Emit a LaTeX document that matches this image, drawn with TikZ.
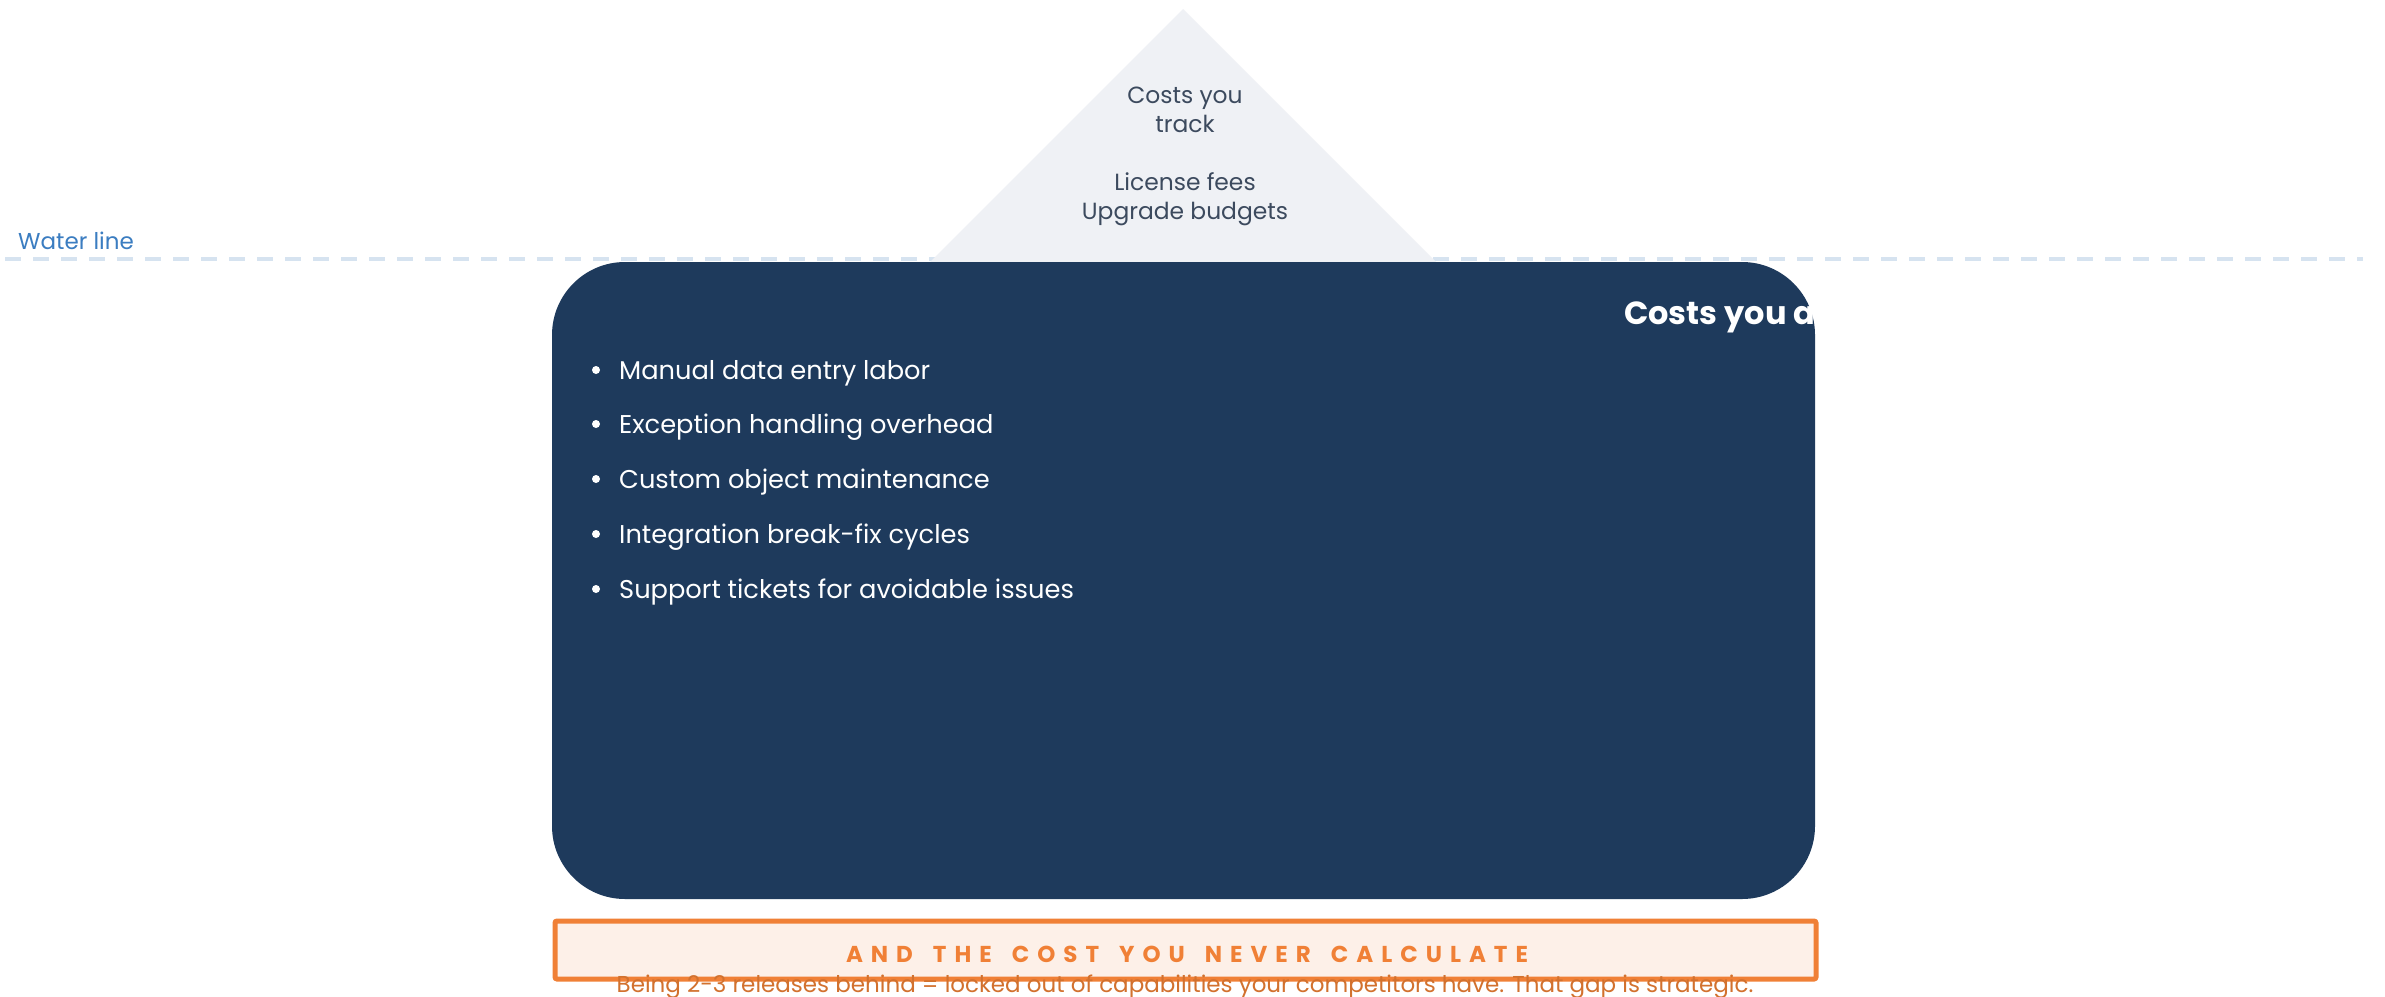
\documentclass[tikz,border=0pt]{standalone}
\usepackage{fontspec}
\setmainfont{Poppins}
\definecolor{navy}{HTML}{1E3A5C}
\definecolor{trifill}{HTML}{EFF1F5}
\definecolor{dashc}{HTML}{D6E3F0}
\definecolor{wlblue}{HTML}{3B7DC1}
\definecolor{tritext}{HTML}{3C4A5E}
\definecolor{orng}{HTML}{F08036}
\definecolor{orngfill}{HTML}{FDF0E8}
\definecolor{orngtext}{HTML}{D2712E}
\makeatletter
\newcommand\lsp[1]{\@tfor\ch:=#1\do{\ch\kern8pt}}
\makeatother
\tikzset{
  waterline/.style={draw=dashc, line width=4.5pt, dash pattern=on 16pt off 12pt},
  darkbox/.style={fill=navy, rounded corners=73pt, inner sep=0pt},
  bullettext/.style={anchor=base west, inner sep=0pt, text=white, font=\fontsize{25.7}{30}\selectfont},
  bulletdot/.style={fill=white},
  orangebox/.style={draw=orng, fill=orngfill, line width=5pt, rounded corners=2pt, inner sep=0pt},
}
\begin{document}
\begin{tikzpicture}[x=1pt,y=-1pt]
\useasboundingbox (0,0) rectangle (2385,996);
\fill[white] (0,0) rectangle (2385,996);
% water line
\coordinate (wl1) at (5,259);
\coordinate (wl2) at (2363,259);
\draw[waterline] (wl1) -- (wl2);
\node[anchor=base west, inner sep=0pt, text=wlblue, font=\fontsize{23}{27}\selectfont] (wltext) at (18,249) {Water line};
% triangle (tip of iceberg)
\coordinate (apex) at (1183,9);
\coordinate (tr) at (1437,263);
\coordinate (tl) at (929,263);
\fill[trifill] (apex) -- (tr) -- (tl) -- cycle;
\node[align=center, inner sep=0pt, text=tritext, font=\fontsize{23.4}{29}\selectfont] (tritxt) at (1185,156)
  {Costs you\\track\\[29pt]License fees\\Upgrade budgets};
% dark box
\node[darkbox, minimum width=1263pt, minimum height=637pt] (box) at (1183.5,580.5) {};
\begin{scope}
\clip[rounded corners=73pt] (box.north west) rectangle (box.south east);
\node[anchor=base west, inner sep=0pt, text=white, font=\bfseries\fontsize{32}{36}\selectfont] (hidden) at (1624,324) {Costs you a};
\end{scope}
% bullets
\foreach \n/\y/\t in {b1/379/Manual data entry labor, b2/433/Exception handling overhead, b3/488/Custom object maintenance, b4/543/Integration break-fix cycles, b5/598/Support tickets for avoidable issues}{
  \node[bullettext] (\n) at (619,\y) {\t};
  \fill[bulletdot] (596,\y-9) circle (4pt);
}
% orange box
\node[orangebox, minimum width=1261pt, minimum height=58pt] (ob) at (1185.5,950) {};
\node[anchor=base, inner sep=0pt, text=orng, font=\bfseries\fontsize{23}{26}\selectfont] (obtitle) at (1187,962)
  {\lsp{AND}\hspace{12pt}\lsp{THE}\hspace{12pt}\lsp{COST}\hspace{12pt}\lsp{YOU}\hspace{12pt}\lsp{NEVER}\hspace{12pt}\lsp{CALCULATE}\kern-8pt};
\node[anchor=base, inner sep=0pt, text=orngtext, font=\fontsize{23}{27}\selectfont] (obsub) at (1185,992)
  {Being 2-3 releases behind = locked out of capabilities your competitors have. That gap is strategic.};
\end{tikzpicture}
\end{document}
